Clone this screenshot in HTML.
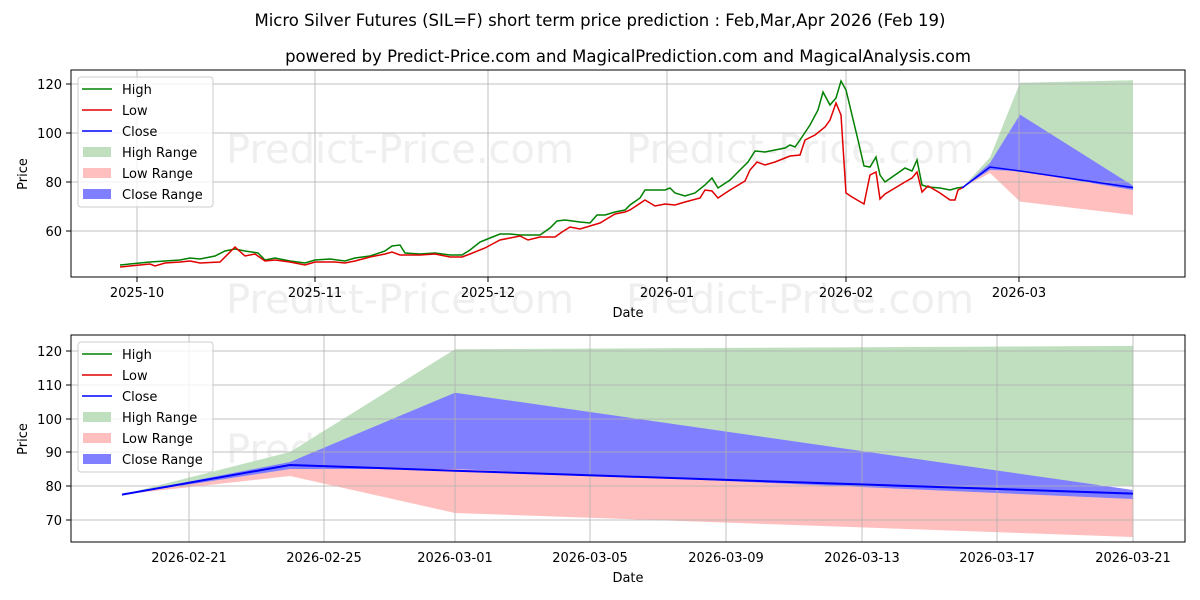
<!DOCTYPE html>
<html><head><meta charset="utf-8"><style>body{margin:0;background:#fff}svg{display:block;font-family:"DejaVu Sans","Liberation Sans",sans-serif}</style></head><body>
<svg width="1200" height="600" viewBox="0 0 1200 600" xmlns="http://www.w3.org/2000/svg">
<text x="600" y="26" font-size="16.5" text-anchor="middle">Micro Silver Futures (SIL=F) short term price prediction : Feb,Mar,Apr 2026 (Feb 19)</text>
<text x="628" y="62" font-size="16.5" text-anchor="middle">powered by Predict-Price.com and MagicalPrediction.com and MagicalAnalysis.com</text>
<g font-size="40" fill="#efefef" text-anchor="middle">
<text x="400" y="163">Predict-Price.com</text><text x="800" y="163">Predict-Price.com</text>
<text x="400" y="313">Predict-Price.com</text><text x="800" y="313">Predict-Price.com</text>
<text x="400" y="463">Predict-Price.com</text><text x="800" y="463">Predict-Price.com</text>
</g>
<!-- top axes -->
<polygon points="962,188 990,157.5 1020,82.8 1133,80.3 1133,187 1020,171 990,167 962,188" fill="#bfdfbf"/>
<polygon points="962,188 990,170 1020,171 1133,188 1133,215 1020,201.6 990,173 962,188" fill="#ffbfbf"/>
<polygon points="962,188 990,163 1020,114.6 1133,185.7 1133,190 1020,171 990,170 962,188" fill="#7f7fff"/>
<g stroke="#b0b0b0" stroke-width="1" stroke-opacity="0.8">
<line x1="137" y1="70" x2="137" y2="277"/><line x1="315" y1="70" x2="315" y2="277"/><line x1="488" y1="70" x2="488" y2="277"/><line x1="667" y1="70" x2="667" y2="277"/><line x1="846" y1="70" x2="846" y2="277"/><line x1="1019" y1="70" x2="1019" y2="277"/>
<line x1="71" y1="84" x2="1185" y2="84"/><line x1="71" y1="133" x2="1185" y2="133"/><line x1="71" y1="182" x2="1185" y2="182"/><line x1="71" y1="231" x2="1185" y2="231"/>
</g>
<polyline fill="none" stroke="#008000" stroke-width="1.5" points="120,265 140,263 150,262 165,261 180,260 190,258 200,259 215,256 225,251 235,249 245,251 258,253 265,260 275,258 290,261 305,263 315,260 330,259 345,261 355,258 370,256 385,251 392,246 400,245 405,253 420,254 435,253 450,255 462,255 470,250 480,242 490,238 500,234 510,234 520,235 530,235 540,235 550,228 557,221 565,220 580,222 590,223 597,215 605,215 615,212 625,210 630,205 640,198 645,190 655,190 665,190 670,188 675,193 685,196 695,193 705,185 712,178 718,188 730,180 740,170 748,162 755,151 765,152 775,150 785,148 790,145 795,147 800,140 810,125 818,110 823,92 830,105 836,98 841,81 846,90 852,115 858,140 864,166 870,167 876,157 880,175 885,182 895,175 905,168 912,171 917,160 922,185 928,187 940,188 950,190 957,188 964,187"/>
<polyline fill="none" stroke="#e00000" stroke-width="1.5" points="120,267 140,265 150,264 155,266 165,263 180,262 190,261 200,263 220,262 235,247 245,256 255,254 265,261 275,260 290,262 305,265 315,262 335,262 345,263 355,261 370,257 385,254 392,252 400,255 420,255 435,254 450,257 462,257 470,254 485,248 500,240 510,238 520,236 528,240 540,237 555,237 562,232 570,227 580,229 590,226 600,223 605,220 615,214 625,212 630,210 645,200 655,206 665,204 675,205 685,202 700,198 705,190 712,191 718,198 730,190 745,181 750,170 757,162 765,165 775,162 785,158 790,156 800,155 805,140 815,135 825,127 830,120 836,103 841,115 846,193 852,197 864,204 870,175 876,172 880,199 885,194 895,188 905,182 912,178 917,172 922,192 928,186 940,193 950,200 955,200 958,190 964,187"/>
<polyline fill="none" stroke="#0000ff" stroke-width="1.5" points="962,188 990,167 1020,171 1133,187.6"/>
<rect x="71" y="70" width="1114" height="207" fill="none" stroke="#000"/>
<g font-size="13" text-anchor="end">
<text x="62" y="89">120</text><text x="62" y="138">100</text><text x="62" y="187">80</text><text x="62" y="236">60</text></g>
<g stroke="#000"><line x1="66" y1="84" x2="71" y2="84"/><line x1="66" y1="133" x2="71" y2="133"/><line x1="66" y1="182" x2="71" y2="182"/><line x1="66" y1="231" x2="71" y2="231"/>
<line x1="137" y1="277" x2="137" y2="282"/><line x1="315" y1="277" x2="315" y2="282"/><line x1="488" y1="277" x2="488" y2="282"/><line x1="667" y1="277" x2="667" y2="282"/><line x1="846" y1="277" x2="846" y2="282"/><line x1="1019" y1="277" x2="1019" y2="282"/></g>
<g font-size="13" text-anchor="middle">
<text x="137" y="297">2025-10</text><text x="315" y="297">2025-11</text><text x="488" y="297">2025-12</text><text x="667" y="297">2026-01</text><text x="846" y="297">2026-02</text><text x="1019" y="297">2026-03</text>
<text x="628" y="317">Date</text></g>
<text x="27" y="174" font-size="13" text-anchor="middle" transform="rotate(-90 27 174)">Price</text>
<g>
<rect x="78" y="77" width="135" height="130" rx="3" fill="#fff" fill-opacity="0.8" stroke="#ccc"/>
<line x1="82" y1="89" x2="112" y2="89" stroke="#008000" stroke-width="1.5"/><text x="122" y="94" font-size="13">High</text>
<line x1="82" y1="110" x2="112" y2="110" stroke="#e00000" stroke-width="1.5"/><text x="122" y="115" font-size="13">Low</text>
<line x1="82" y1="131" x2="112" y2="131" stroke="#0000ff" stroke-width="1.5"/><text x="122" y="136" font-size="13">Close</text>
<rect x="83" y="147" width="28" height="10" fill="#bfdfbf"/><text x="122" y="157" font-size="13">High Range</text>
<rect x="83" y="168" width="28" height="10" fill="#ffbfbf"/><text x="122" y="178" font-size="13">Low Range</text>
<rect x="83" y="189" width="28" height="10" fill="#7f7fff"/><text x="122" y="199" font-size="13">Close Range</text>
</g>
<!-- bottom axes -->
<polygon points="122,494.6 290,452 455,349.3 1133,345.9 1133,486 455,469 290,470 122,494.6" fill="#bfdfbf"/>
<polygon points="122,494.6 290,469 455,469 1133,490 1133,537 455,513 290,476 122,494.6" fill="#ffbfbf"/>
<polygon points="122,494.6 290,462 455,392.7 1133,490 1133,499 455,469 290,469 122,494.6" fill="#7f7fff"/>
<g stroke="#b0b0b0" stroke-opacity="0.8">
<line x1="189" y1="335" x2="189" y2="542"/><line x1="324" y1="335" x2="324" y2="542"/><line x1="455" y1="335" x2="455" y2="542"/><line x1="590" y1="335" x2="590" y2="542"/><line x1="726" y1="335" x2="726" y2="542"/><line x1="862" y1="335" x2="862" y2="542"/><line x1="997" y1="335" x2="997" y2="542"/><line x1="1133" y1="335" x2="1133" y2="542"/>
<line x1="71" y1="351" x2="1185" y2="351"/><line x1="71" y1="385" x2="1185" y2="385"/><line x1="71" y1="419" x2="1185" y2="419"/><line x1="71" y1="452" x2="1185" y2="452"/><line x1="71" y1="486" x2="1185" y2="486"/><line x1="71" y1="520" x2="1185" y2="520"/>
</g>
<polyline fill="none" stroke="#0000ff" stroke-width="2" points="122,494.6 290,465 455,470.7 1133,493.6"/>
<rect x="71" y="335" width="1114" height="207" fill="none" stroke="#000"/>
<g stroke="#000"><line x1="66" y1="351" x2="71" y2="351"/><line x1="66" y1="385" x2="71" y2="385"/><line x1="66" y1="419" x2="71" y2="419"/><line x1="66" y1="452" x2="71" y2="452"/><line x1="66" y1="486" x2="71" y2="486"/><line x1="66" y1="520" x2="71" y2="520"/></g>
<g font-size="13" text-anchor="end">
<text x="62" y="356">120</text><text x="62" y="390">110</text><text x="62" y="424">100</text><text x="62" y="457">90</text><text x="62" y="491">80</text><text x="62" y="525">70</text></g>
<g font-size="13" text-anchor="middle">
<text x="189" y="562">2026-02-21</text><text x="324" y="562">2026-02-25</text><text x="455" y="562">2026-03-01</text><text x="590" y="562">2026-03-05</text><text x="726" y="562">2026-03-09</text><text x="862" y="562">2026-03-13</text><text x="997" y="562">2026-03-17</text><text x="1133" y="562">2026-03-21</text>
<text x="628" y="582">Date</text></g>
<text x="27" y="439" font-size="13" text-anchor="middle" transform="rotate(-90 27 439)">Price</text>
<g>
<rect x="78" y="342" width="135" height="130" rx="3" fill="#fff" fill-opacity="0.8" stroke="#ccc"/>
<line x1="82" y1="354" x2="112" y2="354" stroke="#008000" stroke-width="1.5"/><text x="122" y="359" font-size="13">High</text>
<line x1="82" y1="375" x2="112" y2="375" stroke="#e00000" stroke-width="1.5"/><text x="122" y="380" font-size="13">Low</text>
<line x1="82" y1="396" x2="112" y2="396" stroke="#0000ff" stroke-width="1.5"/><text x="122" y="401" font-size="13">Close</text>
<rect x="83" y="412" width="28" height="10" fill="#bfdfbf"/><text x="122" y="422" font-size="13">High Range</text>
<rect x="83" y="433" width="28" height="10" fill="#ffbfbf"/><text x="122" y="443" font-size="13">Low Range</text>
<rect x="83" y="454" width="28" height="10" fill="#7f7fff"/><text x="122" y="464" font-size="13">Close Range</text>
</g>
</svg>
</body></html>
